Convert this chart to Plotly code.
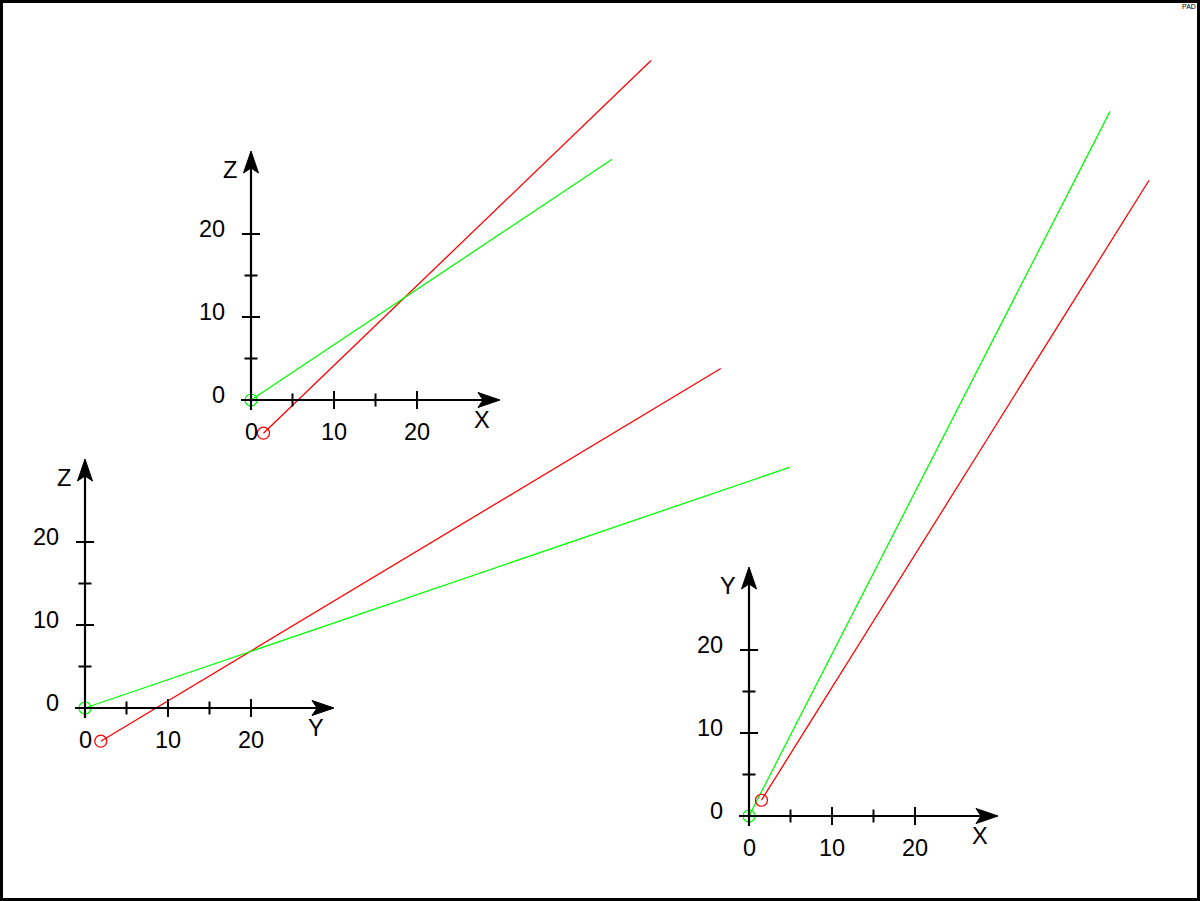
import plotly.graph_objects as go

# ---------------- data (track end points in x, y, z) ----------------
red_x = [1.5, 48.2]
red_y = [1.9, 76.6]
red_z = [-4.0, 40.9]

green_x = [0.0, 43.5]
green_y = [0.0, 84.9]
green_z = [0.0, 29.0]

label_vals = [0, 10, 20]
tick_labels = ["0", "10", "20"]
major_ticks = [10, 20]
minor_ticks = [5, 15]
AXIS_LEN = 30

# ---------------- layout constants ----------------
W, H = 1200, 901
S = 8.3  # pixels per unit
FONT = "Liberation Sans, Arial, sans-serif"
FS = 23.5

panels = [
    dict(h="X", v="Z", hr=red_x, vr=red_z, hg=green_x, vg=green_z,
         origin=(251, 400), xr=(-10, 50), yr=(-8, 45)),
    dict(h="Y", v="Z", hr=red_y, vr=red_z, hg=green_y, vg=green_z,
         origin=(85, 708), xr=(-10, 90), yr=(-8, 45)),
    dict(h="X", v="Y", hr=red_x, vr=red_y, hg=green_x, vg=green_y,
         origin=(749, 816), xr=(-5, 54), yr=(-8, 90)),
]

fig = go.Figure()
shapes = []
annotations = []
layout_axes = {}

px = 1.0 / S  # one pixel in data units
HEAD_L = 22 * px
HEAD_W = 7.5 * px
NOTCH = 5 * px
MAJ = 9 * px
MIN = 6.5 * px

for i, p in enumerate(panels):
    n = "" if i == 0 else str(i + 1)
    xa, ya = "x" + n, "y" + n
    ox, oy = p["origin"]
    x0, x1 = p["xr"]
    y0, y1 = p["yr"]
    dom_x = [(ox + x0 * S) / W, (ox + x1 * S) / W]
    dom_y = [1 - (oy - y0 * S) / H, 1 - (oy - y1 * S) / H]
    layout_axes["xaxis" + n] = dict(domain=dom_x, range=[x0, x1], visible=False,
                                    fixedrange=True, anchor=ya)
    layout_axes["yaxis" + n] = dict(domain=dom_y, range=[y0, y1], visible=False,
                                    fixedrange=True, anchor=xa)

    # tracks
    fig.add_trace(go.Scatter(x=p["hr"], y=p["vr"], mode="lines", xaxis=xa, yaxis=ya,
                             line=dict(color="#ff0000", width=1.3), showlegend=False,
                             hoverinfo="skip"))
    fig.add_trace(go.Scatter(x=p["hg"], y=p["vg"], mode="lines", xaxis=xa, yaxis=ya,
                             line=dict(color="#00ff00", width=1.3), showlegend=False,
                             hoverinfo="skip"))

    # axis lines
    shapes.append(dict(type="line", xref=xa, yref=ya, x0=-10 * px, y0=0,
                       x1=AXIS_LEN - HEAD_L + NOTCH, y1=0,
                       line=dict(color="black", width=2.2)))
    shapes.append(dict(type="line", xref=xa, yref=ya, x0=0, y0=-10 * px,
                       x1=0, y1=AXIS_LEN - HEAD_L + NOTCH,
                       line=dict(color="black", width=2.2)))
    # arrow heads
    t = AXIS_LEN
    shapes.append(dict(type="path", xref=xa, yref=ya, fillcolor="black",
                       line=dict(color="black", width=1),
                       path=f"M {t},0 L {t-HEAD_L},{HEAD_W} L {t-HEAD_L+NOTCH},0 "
                            f"L {t-HEAD_L},{-HEAD_W} Z"))
    shapes.append(dict(type="path", xref=xa, yref=ya, fillcolor="black",
                       line=dict(color="black", width=1),
                       path=f"M 0,{t} L {HEAD_W},{t-HEAD_L} L 0,{t-HEAD_L+NOTCH} "
                            f"L {-HEAD_W},{t-HEAD_L} Z"))
    # ticks
    for v in major_ticks + minor_ticks:
        L = MAJ if v in major_ticks else MIN
        shapes.append(dict(type="line", xref=xa, yref=ya, x0=v, x1=v, y0=-L, y1=L,
                           line=dict(color="black", width=2)))
        shapes.append(dict(type="line", xref=xa, yref=ya, y0=v, y1=v, x0=-L, x1=L,
                           line=dict(color="black", width=2)))
    # tick labels
    for v, lab in zip(label_vals, tick_labels):
        annotations.append(dict(xref=xa, yref=ya, x=v, y=-32 * px, text=lab,
                                showarrow=False, xanchor="center", yanchor="middle",
                                font=dict(family=FONT, size=FS, color="black")))
        annotations.append(dict(xref=xa, yref=ya, x=-24 * px, y=v + 5 * px, text=lab,
                                showarrow=False, xanchor="right", yanchor="middle",
                                font=dict(family=FONT, size=FS, color="black")))
    # axis titles
    annotations.append(dict(xref=xa, yref=ya, x=231 * px, y=-20 * px, text=p["h"],
                            showarrow=False, xanchor="center", yanchor="middle",
                            font=dict(family=FONT, size=FS, color="black")))
    annotations.append(dict(xref=xa, yref=ya, x=-21 * px, y=230 * px, text=p["v"],
                            showarrow=False, xanchor="center", yanchor="middle",
                            font=dict(family=FONT, size=FS, color="black")))

    # start markers
    fig.add_trace(go.Scatter(x=p["hr"][:1], y=p["vr"][:1], mode="markers", xaxis=xa, yaxis=ya,
                             marker=dict(symbol="circle-open", size=12, color="#ff0000",
                                         line=dict(width=1.2)),
                             showlegend=False, hoverinfo="skip", cliponaxis=False))
    fig.add_trace(go.Scatter(x=p["hg"][:1], y=p["vg"][:1], mode="markers", xaxis=xa, yaxis=ya,
                             marker=dict(symbol="circle-open", size=12, color="#00ff00",
                                         line=dict(width=1.2)),
                             showlegend=False, hoverinfo="skip", cliponaxis=False))

# canvas frame and pad label
shapes.append(dict(type="rect", xref="paper", yref="paper",
                   x0=1.5 / W, x1=1 - 1.5 / W, y0=1.5 / H, y1=1 - 1.5 / H,
                   line=dict(color="black", width=3), layer="above"))
annotations.append(dict(xref="paper", yref="paper", x=1189 / W, y=1 - 7 / H, text="PAD",
                        showarrow=False, xanchor="center", yanchor="middle",
                        font=dict(family=FONT, size=7, color="black")))

fig.update_layout(width=W, height=H, margin=dict(l=0, r=0, t=0, b=0),
                  paper_bgcolor="white", plot_bgcolor="rgba(0,0,0,0)",
                  shapes=shapes, annotations=annotations, showlegend=False,
                  **layout_axes)

fig.write_html("out.html", config={"displayModeBar": False},
               post_script="document.body.style.margin='0';"
                           "document.body.style.overflow='hidden';")
